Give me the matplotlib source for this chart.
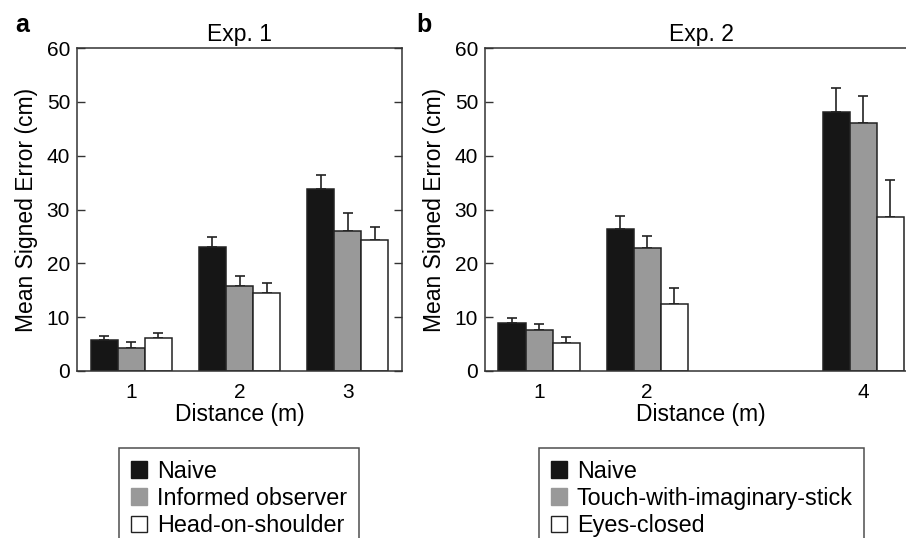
import numpy as np
import matplotlib
matplotlib.use("Agg")
import matplotlib.pyplot as plt
from matplotlib.patches import Patch

plt.rcParams['font.family'] = ['Liberation Sans', 'DejaVu Sans']

# Exp. 1 data
exp1_dist = [1, 2, 3]
exp1_labels = ["Naive", "Informed observer", "Head-on-shoulder"]
exp1_means = [[5.8, 23.0, 33.8],
              [4.3, 15.8, 26.0],
              [6.2, 14.4, 24.4]]
exp1_err = [[0.7, 1.8, 2.6],
            [1.0, 1.8, 3.3],
            [0.8, 1.9, 2.3]]

# Exp. 2 data
exp2_dist = [1, 2, 4]
exp2_labels = ["Naive", "Touch-with-imaginary-stick", "Eyes-closed"]
exp2_means = [[9.0, 26.3, 48.1],
              [7.7, 22.9, 46.1],
              [5.2, 12.4, 28.6]]
exp2_err = [[0.8, 2.4, 4.4],
            [1.0, 2.2, 4.9],
            [1.1, 3.0, 6.8]]

colors = ["#161616", "#999999", "#ffffff"]
W, H = 906, 538

fig = plt.figure(figsize=(W / 100, H / 100), dpi=100)
ax1 = fig.add_axes([77 / W, 1 - 371 / H, 325 / W, 323 / H])
ax2 = fig.add_axes([485 / W, 1 - 371 / H, 432 / W, 323 / H])


def draw(ax, dist, means, errs, title, xlim):
    width = 0.25
    offs = [-width, 0, width]
    for i in range(3):
        x = np.array(dist) + offs[i]
        ax.errorbar(x, means[i], yerr=[np.zeros(len(dist)), errs[i]], fmt='none',
                    ecolor="#222222", elinewidth=1.2, capsize=3.5, capthick=1.2, zorder=1)
        ax.bar(x, means[i], width=width, color=colors[i], edgecolor="#222222",
               linewidth=1.1, zorder=2)
    ax.set_xlim(*xlim)
    ax.set_ylim(0, 60)
    ax.set_yticks([0, 10, 20, 30, 40, 50, 60])
    ax.set_xticks(dist)
    ax.tick_params(axis='y', direction='in', length=6, width=1, right=True,
                   labelsize=15, pad=5, color="#333333")
    ax.tick_params(axis='x', length=0, labelsize=15, pad=9)
    for s in ax.spines.values():
        s.set_color("#333333")
        s.set_linewidth(1.1)
    ax.set_title(title, fontsize=16.5, pad=5)
    ax.set_xlabel("Distance (m)", fontsize=16.5, labelpad=0)
    ax.set_ylabel("Mean Signed Error (cm)", fontsize=16.5, labelpad=6)


draw(ax1, exp1_dist, exp1_means, exp1_err, "Exp. 1", (0.5, 3.5))
draw(ax2, exp2_dist, exp2_means, exp2_err, "Exp. 2", (0.5, 4.5))

for labels, x0 in [(exp1_labels, 119), (exp2_labels, 539)]:
    handles = [Patch(facecolor=colors[0], edgecolor=colors[0], linewidth=1.0),
               Patch(facecolor=colors[1], edgecolor=colors[1], linewidth=1.0),
               Patch(facecolor=colors[2], edgecolor="#222222", linewidth=1.0)]
    leg = fig.legend(handles, labels, loc='upper left',
                     bbox_to_anchor=(x0 / W, 1 - 448 / H), borderaxespad=0,
                     fontsize=16.8, frameon=True, fancybox=False, edgecolor="#222222",
                     handlelength=0.72, handleheight=0.72, handletextpad=0.4,
                     borderpad=0.5, labelspacing=0.18)
    leg.get_frame().set_linewidth(1.1)

fig.text(22 / W, 1 - 25 / H, "a", fontsize=18, fontweight='bold', ha='center', va='center')
fig.text(424 / W, 1 - 25 / H, "b", fontsize=18, fontweight='bold', ha='center', va='center')

fig.savefig("out.png", dpi=100)
